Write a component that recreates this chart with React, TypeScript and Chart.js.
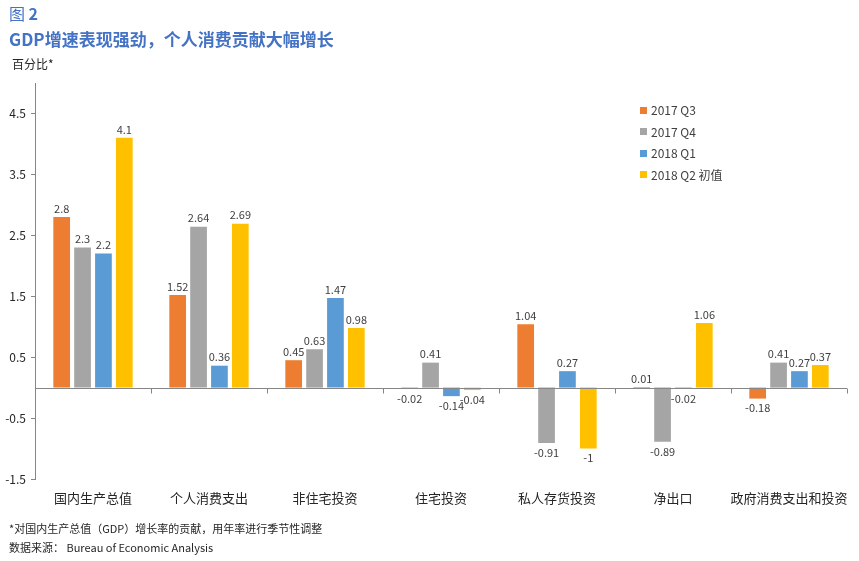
import React, { useEffect, useRef } from "react";
import { Chart, registerables } from "chart.js";

Chart.register(...registerables);

const categories = ["国内生产总值", "个人消费支出", "非住宅投资", "住宅投资", "私人存货投资", "净出口", "政府消费支出和投资"];
const seriesNames = ["2017 Q3", "2017 Q4", "2018 Q1", "2018 Q2 初值"];
const q3_2017 = [2.8, 1.52, 0.45, -0.02, 1.04, 0.01, -0.18];
const q4_2017 = [2.3, 2.64, 0.63, 0.41, -0.91, -0.89, 0.41];
const q1_2018 = [2.2, 0.36, 1.47, -0.14, 0.27, -0.02, 0.27];
const q2_2018 = [4.1, 2.69, 0.98, -0.04, -1, 1.06, 0.37];
const yTicks = [-1.5, -0.5, 0.5, 1.5, 2.5, 3.5, 4.5];
const colors = ["#ED7D31", "#A5A5A5", "#5B9BD5", "#FFC000"];

const FONT = "'Noto Sans CJK SC', 'Noto Sans', sans-serif";

const overlayPlugin = {
  id: "overlay",
  afterDatasetsDraw(chart: any) {
    const ctx = chart.ctx;
    const y = chart.scales.y;
    const x = chart.scales.x;
    const area = chart.chartArea;
    const zeroY = Math.round(y.getPixelForValue(0)) + 0.5;
    ctx.save();
    ctx.strokeStyle = "#868686";
    ctx.lineWidth = 1;
    ctx.beginPath();
    ctx.moveTo(area.left, zeroY);
    ctx.lineTo(area.right, zeroY);
    const n = categories.length;
    const w = (area.right - area.left) / n;
    for (let i = 1; i <= n; i++) {
      const px = Math.round(area.left + w * i) + 0.5;
      ctx.moveTo(px, zeroY);
      ctx.lineTo(px, zeroY + 5);
    }
    ctx.stroke();
    // data labels
    ctx.font = "11px " + FONT;
    ctx.fillStyle = "#404040";
    ctx.textAlign = "center";
    chart.data.datasets.forEach((ds: any, di: number) => {
      const meta = chart.getDatasetMeta(di);
      meta.data.forEach((bar: any, i: number) => {
        const v = ds.data[i];
        const label = String(v);
        if (v >= 0) {
          ctx.textBaseline = "bottom";
          ctx.fillText(label, bar.x, bar.y - 3);
        } else {
          ctx.textBaseline = "top";
          ctx.fillText(label, bar.x, bar.y + 4);
        }
      });
    });
    ctx.restore();
  },
};

export default function App() {
  const ref = useRef<HTMLCanvasElement>(null);
  useEffect(() => {
    const chart = new Chart(ref.current as HTMLCanvasElement, {
      type: "bar",
      data: {
        labels: categories,
        datasets: [q3_2017, q4_2017, q1_2018, q2_2018].map((d, i) => ({
          label: seriesNames[i],
          data: d,
          backgroundColor: colors[i],
          borderWidth: 0,
          categoryPercentage: 0.72,
          barPercentage: 0.8,
        })),
      },
      options: {
        animation: false,
        responsive: false,
        maintainAspectRatio: false,
        layout: { padding: { left: 0, top: 83, right: 7, bottom: 0 } },
        plugins: { legend: { display: false }, tooltip: { enabled: false } },
        scales: {
          x: {
            grid: { display: false, drawTicks: false },
            border: { display: false },
            ticks: {
              padding: 11,
              color: "#262626",
              font: { family: FONT, size: 13 },
              maxRotation: 0,
              autoSkip: false,
            },
            afterFit(scale: any) {
              scale.height = 82;
            },
          },
          y: {
            min: -1.5,
            max: 5,
            afterBuildTicks(scale: any) {
              scale.ticks = yTicks.map((v) => ({ value: v }));
            },
            afterFit(scale: any) {
              scale.width = 35;
            },
            grid: {
              drawOnChartArea: false,
              drawTicks: true,
              tickLength: 4,
              color: "#868686",
            },
            border: { display: true, color: "#868686", width: 1 },
            ticks: {
              padding: 5,
              color: "#262626",
              font: { family: FONT, size: 12 },
              callback: (v: any) => String(v),
            },
          },
        },
      },
      plugins: [overlayPlugin],
    });
    return () => chart.destroy();
  }, []);

  const text = (style: React.CSSProperties, content: React.ReactNode) => (
    <div style={{ position: "absolute", whiteSpace: "nowrap", fontFamily: FONT, lineHeight: 1, ...style }}>{content}</div>
  );

  return (
    <div style={{ position: "fixed", left: 0, top: 0, width: 859, height: 561, background: "#fff", overflow: "hidden" }}>
      <canvas ref={ref} width={859} height={561} style={{ position: "absolute", left: 0, top: 0, width: 859, height: 561 }} />
      {text({ left: 9, top: 5, fontSize: 16, color: "#4472C4" }, <span>图 <b>2</b></span>)}
      {text({ left: 9, top: 30, fontSize: 17, fontWeight: 700, color: "#4472C4" }, "GDP增速表现强劲，个人消费贡献大幅增长")}
      {text({ left: 12, top: 58, fontSize: 12, color: "#262626" }, "百分比*")}
      {seriesNames.map((s, i) =>
        <div key={s} style={{ position: "absolute", left: 640, top: 104 + i * 21.5, display: "flex", alignItems: "center", fontFamily: FONT, fontSize: 12, color: "#404040", lineHeight: 1 }}>
          <span style={{ display: "inline-block", width: 7, height: 7, background: colors[i], marginRight: 4 }} />
          <span>{s}</span>
        </div>
      )}
      {text({ left: 9, top: 523, fontSize: 11, color: "#262626" }, "*对国内生产总值（GDP）增长率的贡献，用年率进行季节性调整")}
      {text({ left: 9, top: 542, fontSize: 11, color: "#262626" }, "数据来源： Bureau of Economic Analysis")}
    </div>
  );
}
